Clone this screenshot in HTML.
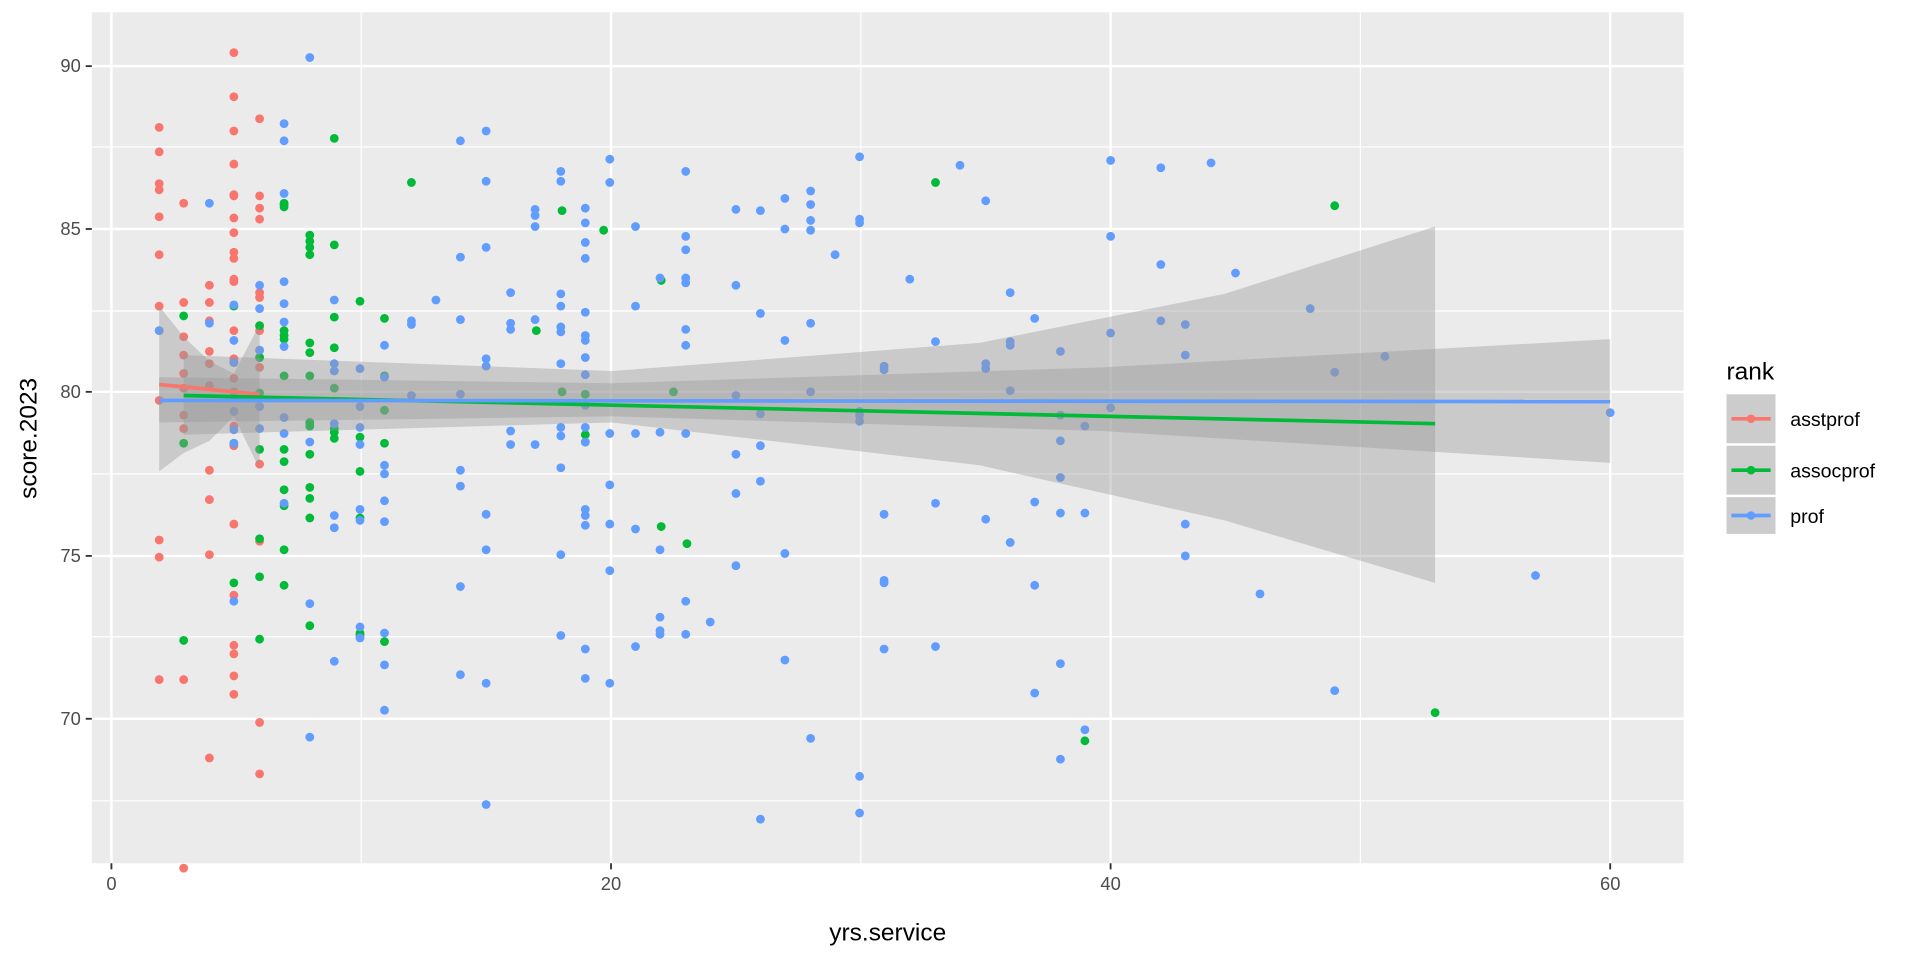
<!DOCTYPE html>
<html><head><style>body{margin:0;background:#fff}svg{display:block}text{font-family:"Liberation Sans",sans-serif}</style></head><body>
<svg width="1920" height="960" viewBox="0 0 1568 784" preserveAspectRatio="none" xmlns="http://www.w3.org/2000/svg">
<rect x="75" y="10" width="1300" height="695" fill="#EBEBEB"/>
<g stroke="#fff" stroke-width="1">
<line x1="75" x2="1375" y1="120" y2="120"/><line x1="75" x2="1375" y1="254" y2="254"/><line x1="75" x2="1375" y1="387" y2="387"/><line x1="75" x2="1375" y1="520" y2="520"/><line x1="75" x2="1375" y1="654" y2="654"/>
<line y1="10" y2="705" x1="295" x2="295"/><line y1="10" y2="705" x1="703" x2="703"/><line y1="10" y2="705" x1="1111" x2="1111"/>
</g>
<g stroke="#fff" stroke-width="2">
<line x1="75" x2="1375" y1="54" y2="54"/><line x1="75" x2="1375" y1="187" y2="187"/><line x1="75" x2="1375" y1="320" y2="320"/><line x1="75" x2="1375" y1="454" y2="454"/><line x1="75" x2="1375" y1="587" y2="587"/>
<line y1="10" y2="705" x1="91" x2="91"/><line y1="10" y2="705" x1="499" x2="499"/><line y1="10" y2="705" x1="907" x2="907"/><line y1="10" y2="705" x1="1315" x2="1315"/>
</g>
<g fill="#F8766D" id="r"></g>
<g fill="#00BA38" id="g"></g>
<g fill="#619CFF" id="b"></g>
<g fill="#999" fill-opacity="0.4">
<polygon points="130,250 150,275 171,295 191,305 212,265 212,383 191,340 171,360 150,370 130,385"/>
<polygon points="150,290 500,303 800,280 1000,240 1172,185 1172,476 1000,425 800,380 500,345 150,355"/>
<polygon points="130,308 500,313 900,300 1315,277 1315,378 900,352 500,340 130,345"/>
</g>
<polyline points="130,314 171,318 212,322" fill="none" stroke="#F8766D" stroke-width="3"/>
<polyline points="150,323 1172,346" fill="none" stroke="#00BA38" stroke-width="3"/>
<polyline points="130,327 1315,328" fill="none" stroke="#619CFF" stroke-width="3"/>
<g stroke="#333" stroke-width="1.5">
<line x1="70" x2="75" y1="54" y2="54"/><line x1="70" x2="75" y1="187" y2="187"/><line x1="70" x2="75" y1="320" y2="320"/><line x1="70" x2="75" y1="454" y2="454"/><line x1="70" x2="75" y1="587" y2="587"/>
<line y1="705" y2="710" x1="91" x2="91"/><line y1="705" y2="710" x1="499" x2="499"/><line y1="705" y2="710" x1="907" x2="907"/><line y1="705" y2="710" x1="1315" x2="1315"/>
</g>
<g font-size="15" fill="#4D4D4D" text-anchor="end">
<text x="66" y="59">90</text><text x="66" y="192">85</text><text x="66" y="325">80</text><text x="66" y="459">75</text><text x="66" y="592">70</text>
</g>
<g font-size="15" fill="#4D4D4D" text-anchor="middle">
<text x="91" y="727">0</text><text x="499" y="727">20</text><text x="907" y="727">40</text><text x="1315" y="727">60</text>
</g>
<text x="725" y="768" font-size="20" text-anchor="middle">yrs.service</text>
<text transform="translate(30,358) rotate(-90)" font-size="20" text-anchor="middle">score.2023</text>
<text x="1410" y="310" font-size="20">rank</text>
<rect x="1410" y="322" width="40" height="40" fill="#ccc"/><rect x="1410" y="364" width="40" height="40" fill="#ccc"/><rect x="1410" y="406" width="40" height="30" fill="#ccc"/>
<line x1="1414" x2="1446" y1="342" y2="342" stroke="#F8766D" stroke-width="3"/><circle cx="1430" cy="342" r="3.5" fill="#F8766D"/>
<line x1="1414" x2="1446" y1="384" y2="384" stroke="#00BA38" stroke-width="3"/><circle cx="1430" cy="384" r="3.5" fill="#00BA38"/>
<line x1="1414" x2="1446" y1="421" y2="421" stroke="#619CFF" stroke-width="3"/><circle cx="1430" cy="421" r="3.5" fill="#619CFF"/>
<g font-size="16"><text x="1462" y="348">asstprof</text><text x="1462" y="390">assocprof</text><text x="1462" y="427">prof</text></g>
<script>
var R={130:[104,124,150,155,177,208,250,270,327,441,455,555],150:[166,247,275,290,305,317,339,350,555,709],171:[233,247,262,287,297,315,384,408,453,619],191:[43,79,107,134,159,160,178,190,206,211,228,230,270,293,296,309,320,336,348,364,428,486,527,534,552,567],212:[97,160,170,179,239,243,266,270,286,292,300,379,442,590,632]};
var G={150:[258,362,523],191:[250,362,476],212:[266,292,321,367,440,471,522],232:[166,167,169,270,274,277,307,367,377,400,413,449,478],253:[192,197,202,208,280,288,307,345,348,371,398,407,423,511],273:[113,200,259,284,317,350,353,358],294:[246,357,385,423,517,519],314:[260,307,335,362,524],336:[149],459:[320,172],478:[322,355,361],438:[270],493:[188],540:[229,430],561:[444],550:[320],764:[149],1090:[168],1172:[582],886:[605]};
var B=[[130,270],[171,166],[171,264],[191,249],[191,278],[191,296],[191,324],[191,336],[191,351],[191,362],[191,491],[212,233],[212,252],[212,286],[212,332],[212,350],[232,101],[232,115],[232,158],[232,230],[232,248],[232,263],[232,283],[232,341],[232,354],[232,411],[253,47],[253,361],[253,493],[253,602],[273,245],[273,297],[273,303],[273,346],[273,421],[273,431],[273,540],[294,301],[294,332],[294,349],[294,363],[294,416],[294,425],[294,512],[294,521],[314,282],[314,308],[314,380],[314,387],[314,409],[314,426],[314,517],[314,543],[314,580],[336,262],[336,265],[336,323],[356,245],[376,115],[376,210],[376,261],[376,322],[376,384],[376,397],[376,479],[376,551],[397,107],[397,148],[397,202],[397,293],[397,299],[397,420],[397,449],[397,558],[397,657],[417,239],[417,264],[417,269],[417,352],[417,363],[437,171],[437,176],[437,185],[437,261],[437,363],[458,140],[458,148],[458,240],[458,250],[458,267],[458,271],[458,297],[458,349],[458,356],[458,382],[458,453],[458,519],[478,170],[478,182],[478,198],[478,211],[478,255],[478,274],[478,278],[478,292],[478,306],[478,331],[478,349],[478,361],[478,416],[478,421],[478,429],[478,530],[478,554],[498,130],[498,149],[498,354],[498,396],[498,428],[498,466],[498,558],[519,250],[519,354],[519,432],[519,528],[519,185],[539,227],[539,353],[539,449],[539,504],[539,515],[539,518],[560,140],[560,193],[560,204],[560,227],[560,231],[560,269],[560,282],[560,354],[560,491],[560,518],[580,508],[601,171],[601,233],[601,323],[601,371],[601,403],[601,462],[621,172],[621,256],[621,338],[621,364],[621,393],[621,669],[641,162],[641,187],[641,278],[641,452],[641,539],[662,156],[662,167],[662,180],[662,188],[662,264],[662,320],[662,603],[682,208],[702,128],[702,179],[702,182],[702,336],[702,339],[702,344],[702,634],[702,664],[722,299],[722,302],[722,420],[722,474],[722,476],[722,530],[743,228],[764,279],[764,411],[764,528],[784,135],[805,164],[805,297],[805,301],[805,424],[825,239],[825,279],[825,282],[825,319],[825,443],[845,260],[845,410],[845,478],[845,566],[866,287],[866,339],[866,360],[866,390],[866,419],[866,620],[866,542],[886,348],[886,419],[886,596],[907,131],[907,193],[907,272],[907,333],[948,137],[948,216],[948,262],[968,265],[968,290],[968,428],[968,454],[989,133],[1009,223],[1029,485],[1070,252],[1090,304],[1090,564],[1131,291],[1254,470],[1315,337]];
var NS="http://www.w3.org/2000/svg";
function add(id,x,y){var c=document.createElementNS(NS,"circle");c.setAttribute("cx",x);c.setAttribute("cy",y);c.setAttribute("r",3.6);document.getElementById(id).appendChild(c);}
for(var k in R)R[k].forEach(function(y){add("r",k,y)});
for(var k in G)G[k].forEach(function(y){add("g",k,y)});
B.forEach(function(p){add("b",p[0],p[1])});
</script>
</svg>
</body></html>
